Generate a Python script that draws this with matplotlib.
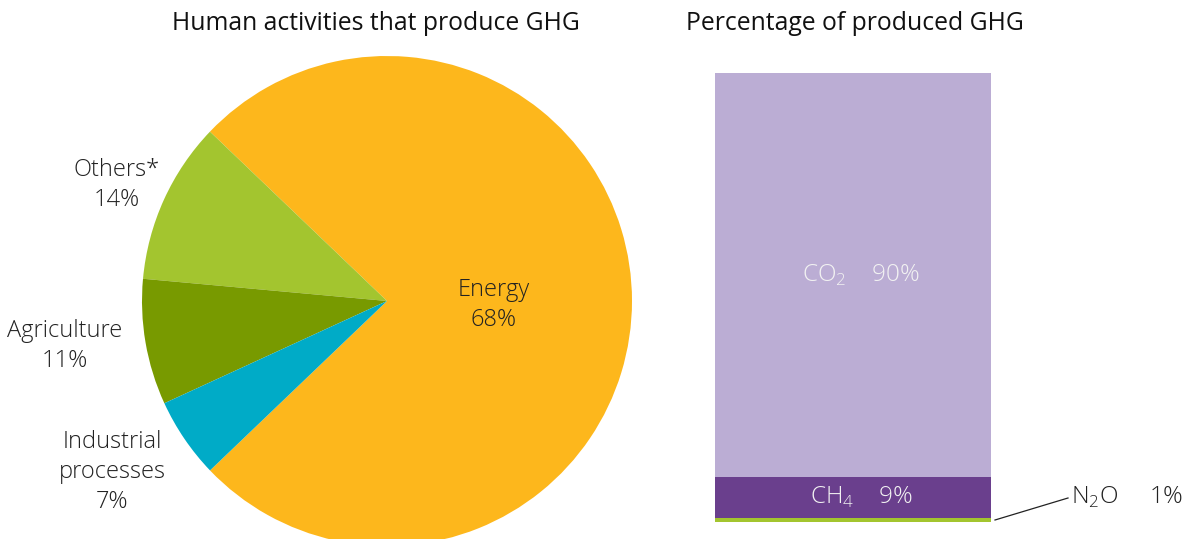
import matplotlib
matplotlib.use("Agg")
import matplotlib.pyplot as plt

# ---- data ----
sectors = ["Energy", "Others*", "Agriculture", "Industrial\nprocesses"]
sector_pct_labels = ["68%", "14%", "11%", "7%"]
sector_slice_shares = [75.7, 10.7, 8.3, 5.3]   # wedge sizes as drawn
sector_colors = ["#FDB71C", "#A3C52F", "#789A00", "#00ABC7"]

gases = ["N$_\\mathregular{2}$O", "CH$_\\mathregular{4}$", "CO$_\\mathregular{2}$"]
gas_pct = [1, 9, 90]
gas_colors = ["#A3C52F", "#6A3F8D", "#BBADD4"]

W, H = 1184, 539
plt.rcParams['font.family'] = ['Open Sans', 'DejaVu Sans']
fig = plt.figure(figsize=(W / 100, H / 100), dpi=100)

def fx(px):
    return px / W

def fy(py):
    return 1 - py / H

# ---- pie ----
cx, cy, r = 387, 301, 245
axp = fig.add_axes([fx(cx - r), fy(cy + r), 2 * r / W, 2 * r / H])
axp.pie(sector_slice_shares, colors=sector_colors, startangle=-136.25,
        counterclock=True, radius=1, wedgeprops=dict(linewidth=0))
axp.set_xlim(-1, 1)
axp.set_ylim(-1, 1)
axp.set_aspect('equal')
axp.axis('off')

txt_col = "#222222"
fs = 17
label_pos = [(494, 305), (117, 185), (65, 346), (112, 472)]
for name, pct, (x, y) in zip(sectors, sector_pct_labels, label_pos):
    fig.text(fx(x), fy(y), f"{name}\n{pct}", ha='center', va='center',
             fontsize=fs, color=txt_col, fontweight='light', linespacing=1.33)

fig.text(fx(376), fy(23), "Human activities that produce GHG", ha='center',
         va='center', fontsize=17.8, color='#111111')
fig.text(fx(855), fy(23), "Percentage of produced GHG", ha='center',
         va='center', fontsize=17.8, color='#111111')

# ---- stacked bar ----
bx0, bx1, by0, by1 = 715, 991, 73, 522
axb = fig.add_axes([fx(bx0), fy(by1), (bx1 - bx0) / W, (by1 - by0) / H])
bottom = 0
for g, v, c in zip(gases, gas_pct, gas_colors):
    axb.bar(0, v, bottom=bottom, width=1.0, color=c, linewidth=0)
    if v >= 5:
        axb.annotate(f"{g}    {v}%", xy=(0, bottom + v / 2), xytext=(8, 0),
                     textcoords='offset pixels', ha='center', va='center',
                     fontsize=17.5, color='#F2F2F2', fontweight='light')
    bottom += v
axb.set_xlim(-0.5, 0.5)
axb.set_ylim(0, 100)
axb.axis('off')

# N2O callout
fig.add_artist(plt.Line2D([fx(995), fx(1068)], [fy(520), fy(498)],
                          color='#222222', linewidth=0.9))
fig.text(fx(1071), fy(497), f"{gases[0]}     {gas_pct[0]}%", ha='left', va='center',
         fontsize=17.5, color=txt_col, fontweight='light')

fig.savefig("out.png", dpi=100)
